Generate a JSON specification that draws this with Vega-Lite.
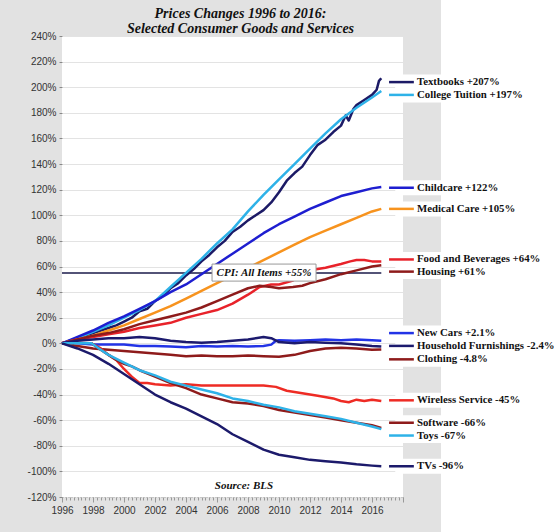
{
  "$schema": "https://vega.github.io/schema/vega-lite/v6.json",
  "width": 341,
  "height": 461,
  "autosize": {"type": "none"},
  "padding": {"left": 62, "top": 36, "right": 151, "bottom": 35},
  "background": "#e2e2e2",
  "config": {
    "view": {"stroke": null, "fill": "white"},
    "axis": {"labelFont": "Liberation Sans", "labelFontSize": 10, "labelColor": "#333333"}
  },
  "title": {
    "text": ["Prices Changes 1996 to 2016:", "Selected Consumer Goods and Services"],
    "font": "Liberation Serif",
    "fontStyle": "italic",
    "fontWeight": "bold",
    "fontSize": 14,
    "lineHeight": 15,
    "color": "#111111",
    "anchor": "middle",
    "frame": "group",
    "offset": -35.5,
    "dx": 8
  },
  "datasets": {
    "series": [
      {"s": "Textbooks", "t": 1996, "v": 0}, {"s": "Textbooks", "t": 1996.5, "v": 2}, {"s": "Textbooks", "t": 1997, "v": 4}, {"s": "Textbooks", "t": 1997.5, "v": 6},
      {"s": "Textbooks", "t": 1998, "v": 8}, {"s": "Textbooks", "t": 1998.5, "v": 10}, {"s": "Textbooks", "t": 1999, "v": 12}, {"s": "Textbooks", "t": 1999.5, "v": 14},
      {"s": "Textbooks", "t": 2000, "v": 17}, {"s": "Textbooks", "t": 2000.5, "v": 20}, {"s": "Textbooks", "t": 2001, "v": 25}, {"s": "Textbooks", "t": 2001.5, "v": 27},
      {"s": "Textbooks", "t": 2002, "v": 33}, {"s": "Textbooks", "t": 2002.5, "v": 37}, {"s": "Textbooks", "t": 2003, "v": 43}, {"s": "Textbooks", "t": 2003.5, "v": 47},
      {"s": "Textbooks", "t": 2004, "v": 53}, {"s": "Textbooks", "t": 2004.5, "v": 58}, {"s": "Textbooks", "t": 2005, "v": 64}, {"s": "Textbooks", "t": 2005.5, "v": 69},
      {"s": "Textbooks", "t": 2006, "v": 75}, {"s": "Textbooks", "t": 2006.5, "v": 80}, {"s": "Textbooks", "t": 2007, "v": 87}, {"s": "Textbooks", "t": 2007.5, "v": 91},
      {"s": "Textbooks", "t": 2008, "v": 96}, {"s": "Textbooks", "t": 2008.5, "v": 100}, {"s": "Textbooks", "t": 2009, "v": 104}, {"s": "Textbooks", "t": 2009.5, "v": 110},
      {"s": "Textbooks", "t": 2010, "v": 118}, {"s": "Textbooks", "t": 2010.5, "v": 127}, {"s": "Textbooks", "t": 2011, "v": 133}, {"s": "Textbooks", "t": 2011.5, "v": 138},
      {"s": "Textbooks", "t": 2012, "v": 147}, {"s": "Textbooks", "t": 2012.5, "v": 155}, {"s": "Textbooks", "t": 2013, "v": 159}, {"s": "Textbooks", "t": 2013.5, "v": 165},
      {"s": "Textbooks", "t": 2014, "v": 170}, {"s": "Textbooks", "t": 2014.3, "v": 178}, {"s": "Textbooks", "t": 2014.5, "v": 174}, {"s": "Textbooks", "t": 2014.8, "v": 183},
      {"s": "Textbooks", "t": 2015, "v": 186}, {"s": "Textbooks", "t": 2015.5, "v": 190}, {"s": "Textbooks", "t": 2016, "v": 194}, {"s": "Textbooks", "t": 2016.3, "v": 198},
      {"s": "Textbooks", "t": 2016.45, "v": 205}, {"s": "Textbooks", "t": 2016.6, "v": 207},

      {"s": "College Tuition", "t": 1996, "v": 0}, {"s": "College Tuition", "t": 1997, "v": 4}, {"s": "College Tuition", "t": 1998, "v": 9}, {"s": "College Tuition", "t": 1999, "v": 14},
      {"s": "College Tuition", "t": 2000, "v": 20}, {"s": "College Tuition", "t": 2001, "v": 26}, {"s": "College Tuition", "t": 2002, "v": 33}, {"s": "College Tuition", "t": 2003, "v": 44},
      {"s": "College Tuition", "t": 2004, "v": 55}, {"s": "College Tuition", "t": 2005, "v": 66}, {"s": "College Tuition", "t": 2006, "v": 78}, {"s": "College Tuition", "t": 2007, "v": 89},
      {"s": "College Tuition", "t": 2008, "v": 103}, {"s": "College Tuition", "t": 2009, "v": 116}, {"s": "College Tuition", "t": 2010, "v": 128}, {"s": "College Tuition", "t": 2011, "v": 140},
      {"s": "College Tuition", "t": 2012, "v": 152}, {"s": "College Tuition", "t": 2013, "v": 164}, {"s": "College Tuition", "t": 2014, "v": 175}, {"s": "College Tuition", "t": 2015, "v": 184},
      {"s": "College Tuition", "t": 2016, "v": 192}, {"s": "College Tuition", "t": 2016.6, "v": 197},

      {"s": "Childcare", "t": 1996, "v": 0}, {"s": "Childcare", "t": 1997, "v": 5}, {"s": "Childcare", "t": 1998, "v": 10}, {"s": "Childcare", "t": 1999, "v": 16},
      {"s": "Childcare", "t": 2000, "v": 21}, {"s": "Childcare", "t": 2001, "v": 27}, {"s": "Childcare", "t": 2002, "v": 33}, {"s": "Childcare", "t": 2003, "v": 40},
      {"s": "Childcare", "t": 2004, "v": 46}, {"s": "Childcare", "t": 2005, "v": 54}, {"s": "Childcare", "t": 2006, "v": 62}, {"s": "Childcare", "t": 2007, "v": 70},
      {"s": "Childcare", "t": 2008, "v": 78}, {"s": "Childcare", "t": 2009, "v": 86}, {"s": "Childcare", "t": 2010, "v": 93}, {"s": "Childcare", "t": 2011, "v": 99},
      {"s": "Childcare", "t": 2012, "v": 105}, {"s": "Childcare", "t": 2013, "v": 110}, {"s": "Childcare", "t": 2014, "v": 115}, {"s": "Childcare", "t": 2015, "v": 118},
      {"s": "Childcare", "t": 2016, "v": 121}, {"s": "Childcare", "t": 2016.6, "v": 122},

      {"s": "Medical Care", "t": 1996, "v": 0}, {"s": "Medical Care", "t": 1997, "v": 3}, {"s": "Medical Care", "t": 1998, "v": 6}, {"s": "Medical Care", "t": 1999, "v": 10},
      {"s": "Medical Care", "t": 2000, "v": 14}, {"s": "Medical Care", "t": 2001, "v": 19}, {"s": "Medical Care", "t": 2002, "v": 24}, {"s": "Medical Care", "t": 2003, "v": 29},
      {"s": "Medical Care", "t": 2004, "v": 35}, {"s": "Medical Care", "t": 2005, "v": 41}, {"s": "Medical Care", "t": 2006, "v": 47}, {"s": "Medical Care", "t": 2007, "v": 53},
      {"s": "Medical Care", "t": 2008, "v": 59}, {"s": "Medical Care", "t": 2009, "v": 65}, {"s": "Medical Care", "t": 2010, "v": 71}, {"s": "Medical Care", "t": 2011, "v": 77},
      {"s": "Medical Care", "t": 2012, "v": 83}, {"s": "Medical Care", "t": 2013, "v": 88}, {"s": "Medical Care", "t": 2014, "v": 93}, {"s": "Medical Care", "t": 2015, "v": 98},
      {"s": "Medical Care", "t": 2016, "v": 103}, {"s": "Medical Care", "t": 2016.6, "v": 105},

      {"s": "Food and Beverages", "t": 1996, "v": 0}, {"s": "Food and Beverages", "t": 1997, "v": 3}, {"s": "Food and Beverages", "t": 1998, "v": 5}, {"s": "Food and Beverages", "t": 1999, "v": 7},
      {"s": "Food and Beverages", "t": 2000, "v": 9}, {"s": "Food and Beverages", "t": 2001, "v": 12}, {"s": "Food and Beverages", "t": 2002, "v": 14}, {"s": "Food and Beverages", "t": 2003, "v": 16},
      {"s": "Food and Beverages", "t": 2004, "v": 20}, {"s": "Food and Beverages", "t": 2005, "v": 23}, {"s": "Food and Beverages", "t": 2006, "v": 26}, {"s": "Food and Beverages", "t": 2007, "v": 31},
      {"s": "Food and Beverages", "t": 2008, "v": 38}, {"s": "Food and Beverages", "t": 2008.75, "v": 44}, {"s": "Food and Beverages", "t": 2009.5, "v": 46}, {"s": "Food and Beverages", "t": 2010, "v": 46},
      {"s": "Food and Beverages", "t": 2010.9, "v": 49}, {"s": "Food and Beverages", "t": 2011.5, "v": 54}, {"s": "Food and Beverages", "t": 2012, "v": 57}, {"s": "Food and Beverages", "t": 2013, "v": 59},
      {"s": "Food and Beverages", "t": 2014, "v": 62}, {"s": "Food and Beverages", "t": 2014.6, "v": 64}, {"s": "Food and Beverages", "t": 2015, "v": 65}, {"s": "Food and Beverages", "t": 2015.5, "v": 65},
      {"s": "Food and Beverages", "t": 2016, "v": 64}, {"s": "Food and Beverages", "t": 2016.6, "v": 64},

      {"s": "Housing", "t": 1996, "v": 0}, {"s": "Housing", "t": 1997, "v": 3}, {"s": "Housing", "t": 1998, "v": 6}, {"s": "Housing", "t": 1999, "v": 8},
      {"s": "Housing", "t": 2000, "v": 11}, {"s": "Housing", "t": 2001, "v": 15}, {"s": "Housing", "t": 2002, "v": 18}, {"s": "Housing", "t": 2003, "v": 21},
      {"s": "Housing", "t": 2004, "v": 24}, {"s": "Housing", "t": 2005, "v": 28}, {"s": "Housing", "t": 2006, "v": 33}, {"s": "Housing", "t": 2007, "v": 38},
      {"s": "Housing", "t": 2008, "v": 43}, {"s": "Housing", "t": 2008.75, "v": 45}, {"s": "Housing", "t": 2009.5, "v": 44}, {"s": "Housing", "t": 2010, "v": 43},
      {"s": "Housing", "t": 2010.9, "v": 44}, {"s": "Housing", "t": 2011.5, "v": 45}, {"s": "Housing", "t": 2012, "v": 47}, {"s": "Housing", "t": 2013, "v": 50},
      {"s": "Housing", "t": 2014, "v": 54}, {"s": "Housing", "t": 2015, "v": 57}, {"s": "Housing", "t": 2016, "v": 60}, {"s": "Housing", "t": 2016.6, "v": 61},

      {"s": "New Cars", "t": 1996, "v": 0}, {"s": "New Cars", "t": 1996.5, "v": 1}, {"s": "New Cars", "t": 1997, "v": 0}, {"s": "New Cars", "t": 1998, "v": -1},
      {"s": "New Cars", "t": 1999, "v": -1}, {"s": "New Cars", "t": 2000, "v": -1}, {"s": "New Cars", "t": 2001, "v": -2}, {"s": "New Cars", "t": 2002, "v": -2},
      {"s": "New Cars", "t": 2003, "v": -2.5}, {"s": "New Cars", "t": 2004, "v": -3}, {"s": "New Cars", "t": 2005, "v": -2}, {"s": "New Cars", "t": 2006, "v": -2.5},
      {"s": "New Cars", "t": 2007, "v": -2}, {"s": "New Cars", "t": 2008, "v": -2.5}, {"s": "New Cars", "t": 2009, "v": -2}, {"s": "New Cars", "t": 2009.5, "v": -1},
      {"s": "New Cars", "t": 2009.8, "v": 2}, {"s": "New Cars", "t": 2010, "v": 2.5}, {"s": "New Cars", "t": 2011, "v": 2}, {"s": "New Cars", "t": 2012, "v": 2.5},
      {"s": "New Cars", "t": 2013, "v": 3}, {"s": "New Cars", "t": 2014, "v": 2.5}, {"s": "New Cars", "t": 2015, "v": 3}, {"s": "New Cars", "t": 2016, "v": 2.5},
      {"s": "New Cars", "t": 2016.6, "v": 2.1},

      {"s": "Household Furnishings", "t": 1996, "v": 0}, {"s": "Household Furnishings", "t": 1997, "v": 2}, {"s": "Household Furnishings", "t": 1998, "v": 3}, {"s": "Household Furnishings", "t": 1999, "v": 4},
      {"s": "Household Furnishings", "t": 2000, "v": 4}, {"s": "Household Furnishings", "t": 2001, "v": 5}, {"s": "Household Furnishings", "t": 2002, "v": 4}, {"s": "Household Furnishings", "t": 2003, "v": 2},
      {"s": "Household Furnishings", "t": 2004, "v": 1}, {"s": "Household Furnishings", "t": 2005, "v": 0.5}, {"s": "Household Furnishings", "t": 2006, "v": 1}, {"s": "Household Furnishings", "t": 2007, "v": 2},
      {"s": "Household Furnishings", "t": 2008, "v": 3}, {"s": "Household Furnishings", "t": 2009, "v": 5}, {"s": "Household Furnishings", "t": 2009.5, "v": 4}, {"s": "Household Furnishings", "t": 2010, "v": 1},
      {"s": "Household Furnishings", "t": 2011, "v": 0}, {"s": "Household Furnishings", "t": 2012, "v": 1}, {"s": "Household Furnishings", "t": 2013, "v": 0.5}, {"s": "Household Furnishings", "t": 2014, "v": 0},
      {"s": "Household Furnishings", "t": 2015, "v": -1}, {"s": "Household Furnishings", "t": 2016, "v": -2}, {"s": "Household Furnishings", "t": 2016.6, "v": -2.4},

      {"s": "Clothing", "t": 1996, "v": 0}, {"s": "Clothing", "t": 1997, "v": -2}, {"s": "Clothing", "t": 1998, "v": -4}, {"s": "Clothing", "t": 1999, "v": -5},
      {"s": "Clothing", "t": 2000, "v": -6}, {"s": "Clothing", "t": 2001, "v": -7}, {"s": "Clothing", "t": 2002, "v": -8}, {"s": "Clothing", "t": 2003, "v": -9},
      {"s": "Clothing", "t": 2004, "v": -10}, {"s": "Clothing", "t": 2005, "v": -9.5}, {"s": "Clothing", "t": 2006, "v": -10}, {"s": "Clothing", "t": 2007, "v": -10},
      {"s": "Clothing", "t": 2008, "v": -9.5}, {"s": "Clothing", "t": 2009, "v": -10}, {"s": "Clothing", "t": 2010, "v": -10.5}, {"s": "Clothing", "t": 2011, "v": -9},
      {"s": "Clothing", "t": 2012, "v": -6}, {"s": "Clothing", "t": 2013, "v": -4}, {"s": "Clothing", "t": 2014, "v": -3.5}, {"s": "Clothing", "t": 2015, "v": -4},
      {"s": "Clothing", "t": 2016, "v": -5}, {"s": "Clothing", "t": 2016.6, "v": -4.8},

      {"s": "Wireless Service", "t": 1997.9, "v": 0}, {"s": "Wireless Service", "t": 1998.5, "v": -4}, {"s": "Wireless Service", "t": 1999, "v": -9}, {"s": "Wireless Service", "t": 1999.5, "v": -13},
      {"s": "Wireless Service", "t": 2000, "v": -20}, {"s": "Wireless Service", "t": 2000.5, "v": -26}, {"s": "Wireless Service", "t": 2001, "v": -31}, {"s": "Wireless Service", "t": 2001.5, "v": -31},
      {"s": "Wireless Service", "t": 2002, "v": -32}, {"s": "Wireless Service", "t": 2003, "v": -33}, {"s": "Wireless Service", "t": 2004, "v": -32}, {"s": "Wireless Service", "t": 2005, "v": -33},
      {"s": "Wireless Service", "t": 2006, "v": -33}, {"s": "Wireless Service", "t": 2007, "v": -33}, {"s": "Wireless Service", "t": 2008, "v": -33}, {"s": "Wireless Service", "t": 2009, "v": -33},
      {"s": "Wireless Service", "t": 2009.8, "v": -34}, {"s": "Wireless Service", "t": 2010.5, "v": -37}, {"s": "Wireless Service", "t": 2011.5, "v": -39}, {"s": "Wireless Service", "t": 2012.5, "v": -41},
      {"s": "Wireless Service", "t": 2013.5, "v": -43}, {"s": "Wireless Service", "t": 2014, "v": -45}, {"s": "Wireless Service", "t": 2014.5, "v": -46}, {"s": "Wireless Service", "t": 2015, "v": -44},
      {"s": "Wireless Service", "t": 2015.5, "v": -45}, {"s": "Wireless Service", "t": 2016, "v": -44}, {"s": "Wireless Service", "t": 2016.6, "v": -45},

      {"s": "Software", "t": 1997.9, "v": 0}, {"s": "Software", "t": 1998.5, "v": -5}, {"s": "Software", "t": 1999, "v": -9}, {"s": "Software", "t": 1999.5, "v": -13},
      {"s": "Software", "t": 2000, "v": -16}, {"s": "Software", "t": 2000.5, "v": -18}, {"s": "Software", "t": 2001, "v": -21}, {"s": "Software", "t": 2002, "v": -26},
      {"s": "Software", "t": 2003, "v": -31}, {"s": "Software", "t": 2004, "v": -35}, {"s": "Software", "t": 2005, "v": -40}, {"s": "Software", "t": 2006, "v": -43},
      {"s": "Software", "t": 2007, "v": -46}, {"s": "Software", "t": 2008, "v": -47}, {"s": "Software", "t": 2009, "v": -49}, {"s": "Software", "t": 2010, "v": -52},
      {"s": "Software", "t": 2011, "v": -54}, {"s": "Software", "t": 2012, "v": -56}, {"s": "Software", "t": 2013, "v": -58}, {"s": "Software", "t": 2014, "v": -60},
      {"s": "Software", "t": 2015, "v": -62}, {"s": "Software", "t": 2016, "v": -64}, {"s": "Software", "t": 2016.6, "v": -66},

      {"s": "Toys", "t": 1996, "v": 0}, {"s": "Toys", "t": 1997, "v": 0}, {"s": "Toys", "t": 1997.9, "v": 0}, {"s": "Toys", "t": 1998.5, "v": -5},
      {"s": "Toys", "t": 1999, "v": -9}, {"s": "Toys", "t": 2000, "v": -15}, {"s": "Toys", "t": 2001, "v": -21}, {"s": "Toys", "t": 2002, "v": -25},
      {"s": "Toys", "t": 2003, "v": -30}, {"s": "Toys", "t": 2004, "v": -33}, {"s": "Toys", "t": 2005, "v": -36}, {"s": "Toys", "t": 2006, "v": -39},
      {"s": "Toys", "t": 2007, "v": -43}, {"s": "Toys", "t": 2008, "v": -45}, {"s": "Toys", "t": 2009, "v": -48}, {"s": "Toys", "t": 2010, "v": -50},
      {"s": "Toys", "t": 2011, "v": -53}, {"s": "Toys", "t": 2012, "v": -55}, {"s": "Toys", "t": 2013, "v": -57}, {"s": "Toys", "t": 2014, "v": -59},
      {"s": "Toys", "t": 2015, "v": -62}, {"s": "Toys", "t": 2016, "v": -65}, {"s": "Toys", "t": 2016.6, "v": -67},

      {"s": "TVs", "t": 1996, "v": 0}, {"s": "TVs", "t": 1997, "v": -4}, {"s": "TVs", "t": 1998, "v": -9}, {"s": "TVs", "t": 1999, "v": -16},
      {"s": "TVs", "t": 2000, "v": -24}, {"s": "TVs", "t": 2001, "v": -32}, {"s": "TVs", "t": 2002, "v": -40}, {"s": "TVs", "t": 2003, "v": -46},
      {"s": "TVs", "t": 2004, "v": -51}, {"s": "TVs", "t": 2005, "v": -57}, {"s": "TVs", "t": 2006, "v": -63}, {"s": "TVs", "t": 2007, "v": -71},
      {"s": "TVs", "t": 2008, "v": -77}, {"s": "TVs", "t": 2009, "v": -83}, {"s": "TVs", "t": 2010, "v": -87}, {"s": "TVs", "t": 2011, "v": -89},
      {"s": "TVs", "t": 2012, "v": -91}, {"s": "TVs", "t": 2013, "v": -92}, {"s": "TVs", "t": 2014, "v": -93}, {"s": "TVs", "t": 2015, "v": -94.5},
      {"s": "TVs", "t": 2016, "v": -95.5}, {"s": "TVs", "t": 2016.6, "v": -96}
    ],
    "labels": [
      {"s": "Textbooks", "label": "Textbooks +207%", "ly": 204},
      {"s": "College Tuition", "label": "College Tuition +197%", "ly": 194},
      {"s": "Childcare", "label": "Childcare +122%", "ly": 121.5},
      {"s": "Medical Care", "label": "Medical Care +105%", "ly": 105},
      {"s": "Food and Beverages", "label": "Food and Beverages +64%", "ly": 65.5},
      {"s": "Housing", "label": "Housing +61%", "ly": 56},
      {"s": "New Cars", "label": "New Cars +2.1%", "ly": 8},
      {"s": "Household Furnishings", "label": "Household Furnishings -2.4%", "ly": -2},
      {"s": "Clothing", "label": "Clothing -4.8%", "ly": -12.5},
      {"s": "Wireless Service", "label": "Wireless Service -45%", "ly": -44.5},
      {"s": "Software", "label": "Software -66%", "ly": -62},
      {"s": "Toys", "label": "Toys -67%", "ly": -72},
      {"s": "TVs", "label": "TVs -96%", "ly": -96}
    ],
    "cpi": [
      {"label": "CPI: All Items +55%", "v": 55, "t0": 1996, "t1": 2016.6}
    ],
    "source": [
      {"label": "Source: BLS"}
    ]
  },
  "resolve": {"axis": {"x": "independent", "y": "independent"}},
  "layer": [
    {
      "data": {"name": "source"},
      "mark": {"type": "rect", "fill": "white", "clip": false},
      "encoding": {
        "x": {"datum": 2020.45, "type": "quantitative", "scale": {"domain": [1996, 2018], "nice": false, "zero": false},
              "axis": {"orient": "bottom", "values": [1996,1996.25,1996.5,1996.75,1997,1997.25,1997.5,1997.75,1998,1998.25,1998.5,1998.75,1999,1999.25,1999.5,1999.75,2000,2000.25,2000.5,2000.75,2001,2001.25,2001.5,2001.75,2002,2002.25,2002.5,2002.75,2003,2003.25,2003.5,2003.75,2004,2004.25,2004.5,2004.75,2005,2005.25,2005.5,2005.75,2006,2006.25,2006.5,2006.75,2007,2007.25,2007.5,2007.75,2008,2008.25,2008.5,2008.75,2009,2009.25,2009.5,2009.75,2010,2010.25,2010.5,2010.75,2011,2011.25,2011.5,2011.75,2012,2012.25,2012.5,2012.75,2013,2013.25,2013.5,2013.75,2014,2014.25,2014.5,2014.75,2015,2015.25,2015.5,2015.75,2016,2016.25,2016.5,2016.75,2017,2017.25,2017.5,2017.75,2018],
                       "labels": false, "domain": false, "grid": false, "ticks": true, "tickSize": 3, "tickColor": "#999999", "tickWidth": 1, "title": null}},
        "x2": {"datum": 2035},
        "y": {"datum": -200, "type": "quantitative",
              "scale": {"domain": [-120, 240], "nice": false, "zero": false},
              "axis": {"orient": "left", "values": [-120,-100,-80,-60,-40,-20,0,20,40,60,80,100,120,140,160,180,200,220,240],
                       "labelExpr": "datum.value + '%'", "grid": true, "gridColor": "#e3e3e3", "domain": false,
                       "tickSize": 3, "tickColor": "#888888", "labelPadding": 3, "title": null, "labelOverlap": false}},
        "y2": {"datum": 268.1}
      }
    },
    {
      "data": {"name": "labels"},
      "mark": {"type": "rule", "color": "white", "strokeWidth": 15, "strokeCap": "butt", "clip": false},
      "encoding": {
        "x": {"datum": 2017.5, "type": "quantitative", "axis": null},
        "x2": {"datum": 2021},
        "y": {"field": "ly", "type": "quantitative", "axis": null}
      }
    },
    {
      "data": {"name": "cpi"},
      "mark": {"type": "rule", "color": "#1a1a4a", "strokeWidth": 1.5},
      "encoding": {
        "x": {"field": "t0", "type": "quantitative", "axis": null},
        "x2": {"field": "t1"},
        "y": {"field": "v", "type": "quantitative", "axis": null}
      }
    },
    {
      "data": {"name": "series"},
      "mark": {"type": "line", "strokeWidth": 2.5, "strokeJoin": "round"},
      "encoding": {
        "x": {"field": "t", "type": "quantitative",
              "axis": {"orient": "bottom", "values": [1996,1998,2000,2002,2004,2006,2008,2010,2012,2014,2016,2018],
                       "labelExpr": "datum.value <= 2016 ? datum.value : ''", "format": "d",
                       "grid": false, "domain": true, "domainColor": "#aaaaaa", "domainDash": [1, 2],
                       "tickSize": 5, "tickColor": "#999999", "labelPadding": 3, "title": null, "labelFlush": false}},
        "y": {"field": "v", "type": "quantitative", "axis": null},
        "color": {"field": "s", "type": "nominal", "legend": null,
                  "scale": {"domain": ["Textbooks", "College Tuition", "Childcare", "Medical Care", "Food and Beverages", "Housing", "New Cars", "Household Furnishings", "Clothing", "Wireless Service", "Software", "Toys", "TVs"],
                            "range": ["#1c1a66", "#2eb2e8", "#1e1ed0", "#f7931e", "#e8222a", "#8e1b1b", "#2233e6", "#1c1a6e", "#8e1b1b", "#ee2b24", "#8e1b1b", "#2eb2e8", "#1c1a6b"]}},
        "detail": {"field": "s"}
      }
    },
    {
      "data": {"name": "labels"},
      "mark": {"type": "rule", "strokeWidth": 2.5, "clip": false},
      "encoding": {
        "x": {"datum": 2017.1, "type": "quantitative", "axis": null},
        "x2": {"datum": 2018.7},
        "y": {"field": "ly", "type": "quantitative", "axis": null},
        "color": {"field": "s", "type": "nominal", "legend": null}
      }
    },
    {
      "data": {"name": "labels"},
      "mark": {"type": "text", "align": "left", "baseline": "middle", "font": "Liberation Serif", "fontWeight": "bold", "fontSize": 10.8, "color": "#111111", "clip": false},
      "encoding": {
        "x": {"datum": 2018.9, "type": "quantitative", "axis": null},
        "y": {"field": "ly", "type": "quantitative", "axis": null},
        "text": {"field": "label"}
      }
    },
    {
      "data": {"name": "cpi"},
      "mark": {"type": "rect", "fill": "white", "stroke": "#999999", "strokeWidth": 1},
      "encoding": {
        "x": {"datum": 2005.68, "type": "quantitative", "axis": null},
        "x2": {"datum": 2012.39},
        "y": {"datum": 61.9, "type": "quantitative", "axis": null},
        "y2": {"datum": 48.6}
      }
    },
    {
      "data": {"name": "cpi"},
      "mark": {"type": "text", "align": "center", "baseline": "middle", "font": "Liberation Serif", "fontStyle": "italic", "fontWeight": "bold", "fontSize": 11, "color": "#111111"},
      "encoding": {
        "x": {"datum": 2009.03, "type": "quantitative", "axis": null},
        "y": {"field": "v", "type": "quantitative", "axis": null},
        "text": {"field": "label"}
      }
    },
    {
      "data": {"name": "source"},
      "mark": {"type": "text", "align": "center", "baseline": "middle", "font": "Liberation Serif", "fontStyle": "italic", "fontWeight": "bold", "fontSize": 11, "color": "#111111"},
      "encoding": {
        "x": {"datum": 2007.74, "type": "quantitative", "axis": null},
        "y": {"datum": -111.4, "type": "quantitative", "axis": null},
        "text": {"field": "label"}
      }
    }
  ]
}
